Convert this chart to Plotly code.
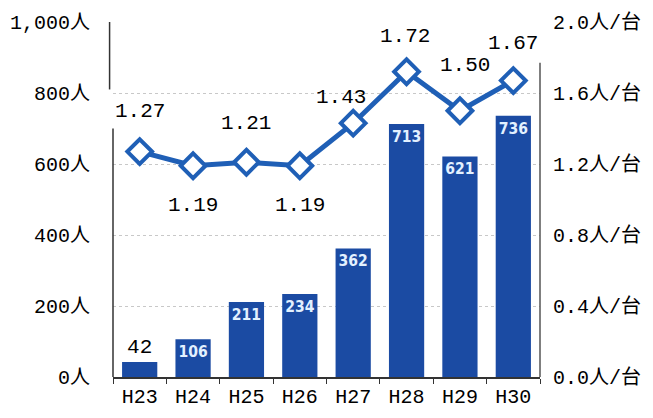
import plotly.graph_objects as go

years = ["H23", "H24", "H25", "H26", "H27", "H28", "H29", "H30"]
persons = [42, 106, 211, 234, 362, 713, 621, 736]
ratio = [1.27, 1.19, 1.21, 1.19, 1.43, 1.72, 1.50, 1.67]
left_ticks = [0, 200, 400, 600, 800, 1000]
left_labels = ["0人", "200人", "400人", "600人", "800人", "1,000人"]
right_ticks = [0.0, 0.4, 0.8, 1.2, 1.6, 2.0]
right_labels = ["0.0人/台", "0.4人/台", "0.8人/台", "1.2人/台", "1.6人/台", "2.0人/台"]

NUMF = "DejaVu Sans Condensed, Liberation Sans Narrow, Liberation Mono, Noto Sans CJK JP"
TICKF = "Liberation Mono, Noto Sans CJK JP"
BAR = "#1b4ba3"
LINE = "#1f5fb6"

bar_pos = ["outside" if v < 80 else "inside" for v in persons]
bar_col = ["black" if v < 80 else "#e3f1ff" for v in persons]

fig = go.Figure()
fig.add_trace(go.Bar(
    x=years, y=persons, marker=dict(color=BAR, line=dict(width=0)),
    width=0.66, text=[str(v) for v in persons], textposition=bar_pos,
    insidetextanchor="end", textangle=0, cliponaxis=False,
    textfont=dict(family=NUMF, size=20, color=bar_col),
    outsidetextfont=dict(family=TICKF, size=21, color="black", weight="normal"),
    insidetextfont=dict(family=NUMF, size=20, color="#e3f1ff", weight="bold"),
    yaxis="y",
))
fig.add_trace(go.Scatter(
    x=years, y=ratio, mode="lines+markers", yaxis="y2",
    line=dict(color=LINE, width=5),
    marker=dict(symbol="diamond", size=19, color="white",
                line=dict(color=LINE, width=4)),
    cliponaxis=False,
))

shifts = [40, -40, 39, -40, 26, 35, 45, 37]
xshifts = [0, 0, 0, 0, -12, -2, 5, 0]
for i, (x, v) in enumerate(zip(years, ratio)):
    fig.add_annotation(x=x, y=v, yref="y2", text=f"{v:.2f}", showarrow=False,
                       yshift=shifts[i], xshift=xshifts[i],
                       font=dict(family=TICKF, size=21, color="black"))

# axis lines (left axis is interrupted near the top)
fig.add_shape(type="line", xref="paper", yref="y", x0=0, x1=0, y0=0, y1=700,
              line=dict(color="#333", width=1.5))
fig.add_shape(type="line", xref="paper", yref="y", x0=-0.008, x1=-0.008, y0=810, y1=1000,
              line=dict(color="#333", width=1.5))
fig.add_shape(type="line", xref="paper", yref="y2", x0=1, x1=1, y0=0, y1=1.77,
              line=dict(color="#555", width=1.5))

fig.update_layout(
    width=653, height=418,
    margin=dict(l=113, r=113, t=22, b=41, autoexpand=False),
    paper_bgcolor="white", plot_bgcolor="white",
    showlegend=False, bargap=0.34,
    font=dict(family=TICKF, size=20, color="black"),
    xaxis=dict(tickvals=years, ticktext=years, range=[-0.5, len(years) - 0.5],
               showline=True, linecolor="#333",
               linewidth=1.5, ticks="outside", tickson="boundaries", ticklen=5,
               tickcolor="#333", tickfont=dict(family=TICKF, size=20), showgrid=False,
               automargin=False),
    yaxis=dict(range=[0, 1000], tickvals=left_ticks, ticktext=left_labels,
               showgrid=True, gridcolor="#c8c8c8", griddash="dot", gridwidth=1,
               showline=False, zeroline=False, ticks="", ticklabelstandoff=22,
               tickfont=dict(family=TICKF, size=20), automargin=False),
    yaxis2=dict(range=[0, 2.0], tickvals=right_ticks, ticktext=right_labels,
                overlaying="y", side="right", showgrid=False, showline=False,
                zeroline=False, ticks="", ticklabelstandoff=12,
                tickfont=dict(family=TICKF, size=20), automargin=False),
)

fig.write_html("out.html", config={"displayModeBar": False},
               post_script="document.body.style.margin='0';document.body.style.overflow='hidden';")
